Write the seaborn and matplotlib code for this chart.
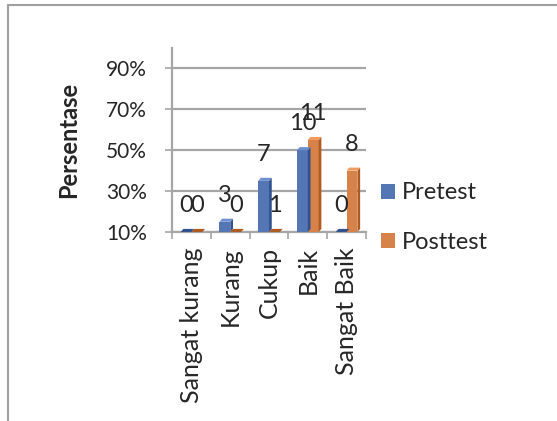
import pandas as pd
import matplotlib
matplotlib.use("Agg")
import matplotlib.pyplot as plt
import seaborn as sns
from matplotlib.lines import Line2D
from matplotlib.patches import Polygon
from matplotlib.ticker import FixedLocator

categories = ["Sangat kurang", "Kurang", "Cukup", "Baik", "Sangat Baik"]
pretest = [0, 3, 7, 10, 0]
posttest = [0, 0, 1, 11, 8]
n_students = 20
series_names = ["Pretest", "Posttest"]
colors = ["#4472C4", "#ED7D31"]
side_colors = ["#2F528F", "#AE5A21"]
top_colors = ["#6E8FD0", "#F19A5E"]
y_ticks = [10, 30, 50, 70, 90]

rows = []
for name, counts in zip(series_names, [pretest, posttest]):
    for cat, c in zip(categories, counts):
        rows.append({"Kategori": cat, "Tes": name, "Jumlah": c,
                     "Persen": c / n_students * 100})
df = pd.DataFrame(rows)

sns.set_style("white")
plt.rcParams["font.family"] = ["Lato", "DejaVu Sans"]

fig = plt.figure(figsize=(5.57, 4.21), dpi=100)
ax = fig.add_axes([0.309, 0.449, 0.348, 0.437])

grid_col = "#a6a6a6"
for t in y_ticks:
    ax.axhline(t, color=grid_col, lw=1.6, zorder=0)

sns.barplot(data=df, x="Kategori", y="Persen", hue="Tes", palette=colors,
            width=0.56, gap=0.0, ax=ax, legend=True, zorder=3,
            edgecolor="none")

floor = 10
dx, dy = 0.07, 1.5   # small depth for a 3D look
for cont, name, sc, tc in zip(ax.containers, series_names, side_colors, top_colors):
    counts = df[df["Tes"] == name]["Jumlah"].tolist()
    for bar, c in zip(cont, counts):
        x0 = bar.get_x()
        x1 = x0 + bar.get_width()
        h = max(bar.get_height(), floor)
        if h > floor:
            ax.add_patch(Polygon([(x1, floor), (x1 + dx, floor + dy),
                                  (x1 + dx, h + dy), (x1, h)],
                                 closed=True, color=sc, zorder=4, lw=0))
        ax.add_patch(Polygon([(x0, h), (x0 + dx, h + dy), (x1 + dx, h + dy), (x1, h)],
                             closed=True, color=tc if h > floor else sc,
                             zorder=4, lw=0))
        ax.text((x0 + x1) / 2, h + 13, str(c),
                ha="center", va="center", fontsize=17, zorder=5)

ax.set_ylim(10, 100)
ax.set_xlim(-0.5, len(categories) - 0.5)
ax.yaxis.set_major_locator(FixedLocator(y_ticks))
ax.set_yticklabels([f"{t}%" for t in y_ticks], fontsize=15)
ax.set_xticks(range(len(categories)))
ax.set_xticklabels(categories, rotation=90, fontsize=18)
ax.set_xticks([i - 0.5 for i in range(len(categories) + 1)], minor=True)
ax.tick_params(axis="x", which="major", length=0, pad=11)
ax.tick_params(axis="x", which="minor", length=5, color=grid_col, width=1.2,
               direction="out", bottom=True)
ax.tick_params(axis="y", length=5, color=grid_col, width=1.2, left=True,
               pad=13)
ax.set_xlabel("")
ax.set_ylabel("Persentase", fontsize=17, fontweight="bold", labelpad=19)

for side in ["top", "right"]:
    ax.spines[side].set_visible(False)
for side in ["left", "bottom"]:
    ax.spines[side].set_color(grid_col)
    ax.spines[side].set_linewidth(1.6)

handles, labels = ax.get_legend_handles_labels()
ax.legend(handles, labels, loc="center left", bbox_to_anchor=(0.645, 0.483),
          bbox_transform=fig.transFigure, frameon=False, fontsize=17,
          handlelength=0.6, handleheight=0.6, handletextpad=0.3,
          labelspacing=1.2)

# chart area border
fig.add_artist(Line2D([0.0135, 1], [0.989, 0.989], color="#a0a0a0", lw=1.5,
                      transform=fig.transFigure))
fig.add_artist(Line2D([0.0135, 0.0135], [0, 0.989], color="#a0a0a0", lw=1.5,
                      transform=fig.transFigure))

fig.savefig("out.png", dpi=100)
